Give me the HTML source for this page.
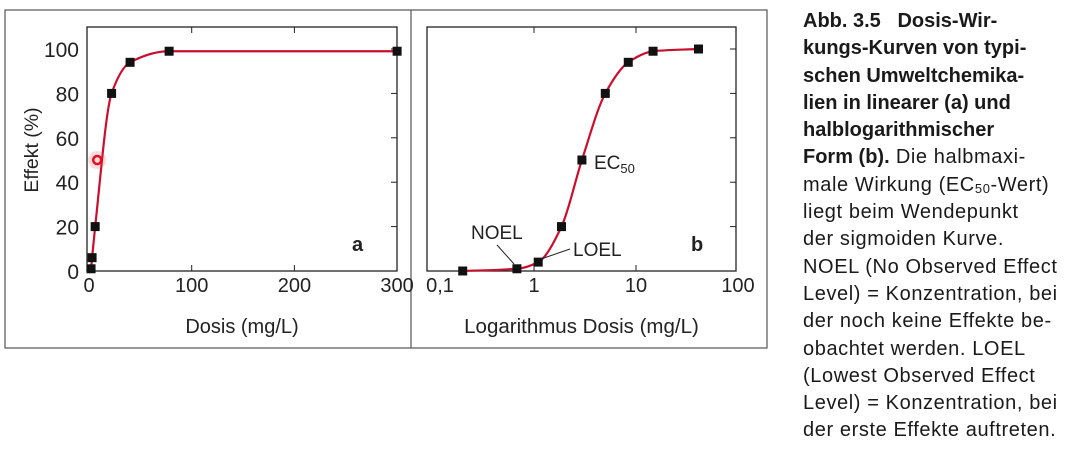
<!DOCTYPE html>
<html><head><meta charset="utf-8"><style>
body{margin:0;width:1073px;height:450px;background:#fff;overflow:hidden;font-family:"Liberation Sans",sans-serif;}
#cap{position:absolute;left:803px;top:8px;width:270px;font-size:20px;line-height:27.3px;color:#1a1a1a;white-space:nowrap;letter-spacing:0.6px;}
#cap b{font-weight:bold;letter-spacing:0;}
sub{font-size:13px;vertical-align:-2px;line-height:0;}
</style></head><body>
<svg id="chart" width="1073" height="450" style="position:absolute;left:0;top:0" font-family="Liberation Sans, sans-serif"></svg>
<div id="cap"><b>Abb. 3.5&nbsp;&nbsp;&nbsp;Dosis-Wir-<br>kungs-Kurven von typi-<br>schen Umweltchemika-<br>lien in linearer (a) und<br>halblogarithmischer<br>Form (b).</b> Die halbmaxi-<br>male Wirkung (EC<sub>50</sub>-Wert)<br>liegt beim Wendepunkt<br>der sigmoiden Kurve.<br>NOEL (No Observed Effect<br>Level) = Konzentration, bei<br>der noch keine Effekte be-<br>obachtet werden. LOEL<br>(Lowest Observed Effect<br>Level) = Konzentration, bei<br>der erste Effekte auftreten.</div>
<script>
const linDose=[2,3,6,22,40,78,300];
const linEffect=[1,6,20,80,94,99,99];
const logDose=[0.2,0.68,1.1,1.86,2.95,5.0,8.4,14.7,41];
const logEffect=[0,1,4,20,50,80,94,99,100];
const yTicks=[0,20,40,60,80,100];
const linXTicks=[0,100,200,300];
const logXTicks=[0.1,1,10,100];
const logXLabels=["0,1","1","10","100"];

const svg=document.getElementById('chart');
const NS='http://www.w3.org/2000/svg';
function mk(tag,attrs,parent){const e=document.createElementNS(NS,tag);for(const k in attrs)e.setAttribute(k,attrs[k]);(parent||svg).appendChild(e);return e;}
const yS=v=>271-v*2.22;
const xA=v=>89+v*1.027;
const xB=v=>432+(Math.log10(v)+1)*102;

function frame(){
  const f=mk('rect',{x:5,y:10,width:762,height:338,fill:'none',stroke:'#555','stroke-width':1.2});
  
  
  const d=mk('line',{x1:411,y1:10,x2:411,y2:348,stroke:'#555','stroke-width':1.2});
  
  
}
frame();

function monotone(pts){
  const n=pts.length;const dx=[],m=[],t=[];
  for(let i=0;i<n-1;i++){dx.push(pts[i+1][0]-pts[i][0]);m.push((pts[i+1][1]-pts[i][1])/dx[i]);}
  t[0]=m[0];t[n-1]=m[n-2];
  for(let i=1;i<n-1;i++){t[i]=(m[i-1]*m[i]<=0)?0:(dx[i-1]+dx[i])*3/((2*dx[i]+dx[i-1])/m[i-1]+(dx[i]+2*dx[i-1])/m[i]);}
  let d='M'+pts[0][0]+','+pts[0][1];
  for(let i=0;i<n-1;i++){const h=dx[i]/3;d+=' C'+(pts[i][0]+h)+','+(pts[i][1]+t[i]*h)+' '+(pts[i+1][0]-h)+','+(pts[i+1][1]-t[i+1]*h)+' '+pts[i+1][0]+','+pts[i+1][1];}
  return d;
}

function panel(name,x0,x1,xf,xd,ye,xt,xl,xTitle,titleSize,letter,topTicks){
  const g=mk('g',{});
  
  
  const r=mk('rect',{x:x0,y:27,width:x1-x0,height:244,fill:'none',stroke:'#222','stroke-width':1.3},g);
  
  
  yTicks.forEach(v=>{
    const y=yS(v);
    const t=mk('line',{x1:x1-6,y1:y,x2:x1,y2:y,stroke:'#222','stroke-width':1},g);
    
    
    if(name==='panel-a'){
      const l=mk('text',{x:x0-8,y:y+8,'text-anchor':'end','font-size':21,fill:'#222'},g);
      l.textContent=v;
      
      
    }
  });
  xt.forEach((v,i)=>{
    const x=xf(v);
    if(topTicks.includes(v)){
      const t1=mk('line',{x1:x,y1:27,x2:x,y2:33,stroke:'#222','stroke-width':1},g);
      
      
      const t2=mk('line',{x1:x,y1:271,x2:x,y2:265,stroke:'#222','stroke-width':1},g);
      
      
    }
    const l=mk('text',{x:x+(name==='panel-b'&&i===0?8:0),y:292,'text-anchor':'middle','font-size':20,fill:'#222'},g);
    l.textContent=xl[i];
    
    
  });
  const tt=mk('text',{x:(x0+x1)/2,y:333,'text-anchor':'middle','font-size':titleSize,fill:'#222'},g);
  tt.textContent=xTitle;
  
  
  const lt=mk('text',{x:x1-45,y:251,'font-size':20,'font-weight':'bold',fill:'#222'},g);
  lt.textContent=letter;
  
  
  const pts=xd.map((v,i)=>[xf(v),yS(ye[i])]);
  const c=mk('path',{d:monotone(pts),fill:'none',stroke:'#c8102e','stroke-width':2.2},g);
  
  
  pts.forEach(p=>{
    const s=mk('rect',{x:p[0]-4.5,y:p[1]-4.5,width:9,height:9,fill:'#111'},g);
    
    
  });
  return g;
}
panel('panel-a',87,397,xA,linDose,linEffect,linXTicks,linXTicks.map(String),'Dosis (mg/L)',20,'a',[100,200]);
const gb=panel('panel-b',427,736,xB,logDose,logEffect,logXTicks,logXLabels,'Logarithmus Dosis (mg/L)',20.5,'b',[1,10]);

const yt=mk('text',{x:0,y:0,'text-anchor':'middle','font-size':19.5,fill:'#222',transform:'translate(38,150) rotate(-90)'});
yt.textContent='Effekt (%)';



const glow=mk('circle',{cx:xA(8),cy:yS(50),r:9,fill:'#ff3040',opacity:0.18});


const ec=mk('circle',{cx:xA(8),cy:yS(50),r:4,fill:'none',stroke:'#e01020','stroke-width':2.5});



function label(txt,x,y,name){const t=mk('text',{x:x,y:y,'font-size':19,fill:'#222'},gb);t.innerHTML=txt;return t;}
label('EC<tspan font-size="13" dy="4">50</tspan>',594,169,'ec50-label');
label('NOEL',471,239,'noel-label');
label('LOEL',573,256,'loel-label');
const l1=mk('line',{x1:497,y1:245,x2:514,y2:264,stroke:'#222','stroke-width':1},gb);


const l2=mk('line',{x1:541,y1:259,x2:570,y2:249,stroke:'#222','stroke-width':1},gb);


</script>
</body></html>
